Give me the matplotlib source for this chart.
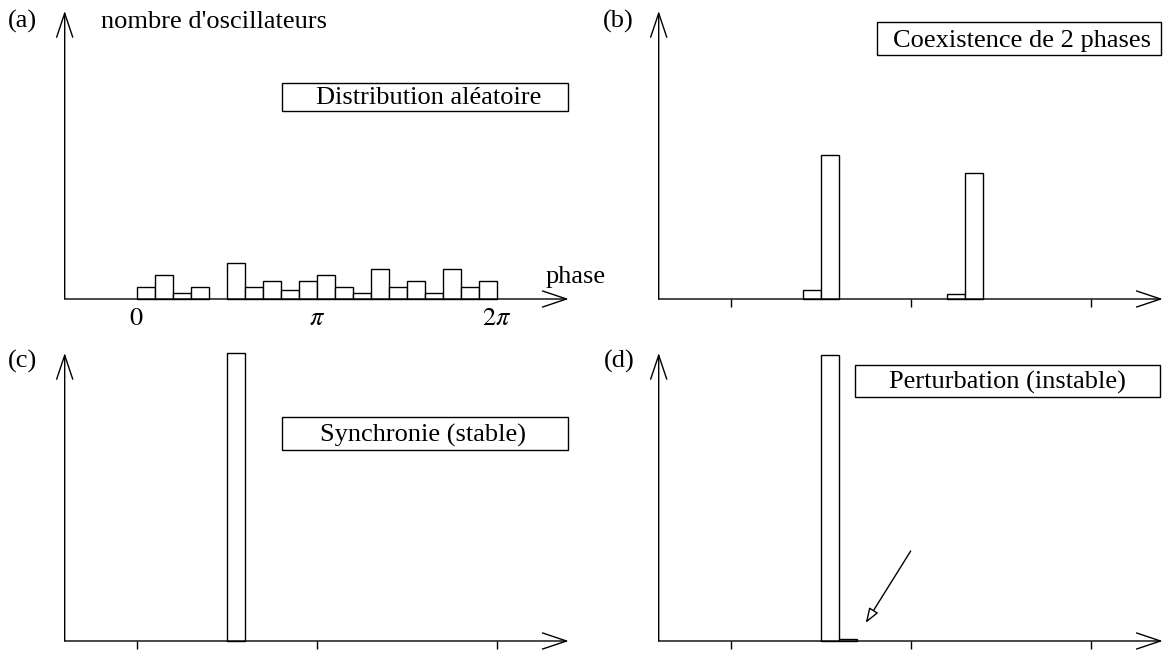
"""
Histogrammes de phases d'oscillateurs : 4 situations (a)-(d)
"""

import numpy as np
import matplotlib.pyplot as plt
from matplotlib.patches import Rectangle

plt.rcParams['font.family'] = 'Liberation Serif'
plt.rcParams['mathtext.fontset'] = 'stix'

W, H = 1166, 650
FS = 19

# 20 classes de phase entre 0 et 2*pi
N_BINS = 20
bin_width = 2 * np.pi / N_BINS
bin_left = np.arange(N_BINS) * bin_width

# nombre d'oscillateurs par classe
counts_a = [2, 4, 1, 2, 0, 6, 2, 3, 1.5, 3, 4, 2, 1, 5, 2, 3, 1, 5, 2, 3]
counts_b = [0, 0, 0, 0, 1.5, 24, 0, 0, 0, 0, 0, 0, 0.8, 21, 0, 0, 0, 0, 0, 0]
counts_c = [0, 0, 0, 0, 0, 48, 0, 0, 0, 0, 0, 0, 0, 0, 0, 0, 0, 0, 0, 0]
counts_d = [0, 0, 0, 0, 0, 47.6, 0.3, 0, 0, 0, 0, 0, 0, 0, 0, 0, 0, 0, 0, 0]

tick_pos = [0, np.pi, 2 * np.pi]
tick_labels = ['$0$', r'$\pi$', r'$2\pi$']

letters = ['(a)', '(b)', '(c)', '(d)']
titles = ['Distribution aléatoire', 'Coexistence de 2 phases',
          'Synchronie (stable)', 'Perturbation (instable)']

XMIN, XMAX = -0.4 * np.pi, 2.4 * np.pi
YMAX = 48


def fx(x):
    return x / W


def fy(y):
    return 1 - y / H


fig = plt.figure(figsize=(W / 100, H / 100), dpi=100)

# (pixel x de l'axe vertical, pixel y de l'axe horizontal)
layout = [(64.7, 299), (658.7, 299), (64.7, 641), (658.7, 641)]
all_counts = [counts_a, counts_b, counts_c, counts_d]
axes = []

arrow_axis = dict(arrowstyle='->,head_length=1.73,head_width=0.58', lw=1.0,
                  color='black', shrinkA=0, shrinkB=0, mutation_scale=10)

for (x0, base), counts in zip(layout, all_counts):
    ax = fig.add_axes([fx(x0), fy(base), 504 / W, 288 / H])
    ax.set_xlim(XMIN, XMAX)
    ax.set_ylim(0, YMAX)
    for s in ax.spines.values():
        s.set_visible(False)
    ax.set_yticks([])
    ax.patch.set_alpha(0)

    c = np.array(counts)
    m = c > 0
    ax.bar(bin_left[m], c[m], width=bin_width, align='edge',
           facecolor='white', edgecolor='black', lw=1.0, clip_on=False)

    ax.annotate('', xy=(XMIN, YMAX), xytext=(XMIN, 0),
                arrowprops=arrow_axis, annotation_clip=False)
    ax.annotate('', xy=(XMAX, 0), xytext=(XMIN, 0),
                arrowprops=arrow_axis, annotation_clip=False)
    axes.append(ax)

ax_a, ax_b, ax_c, ax_d = axes

# graduations
ax_a.set_xticks(tick_pos)
ax_a.set_xticklabels(tick_labels, fontsize=FS)
ax_a.tick_params(axis='x', length=0, pad=6.5)
for ax in (ax_b, ax_c, ax_d):
    ax.set_xticks(tick_pos)
    ax.tick_params(axis='x', length=6, width=1.0, direction='out',
                   labelbottom=False)

# textes des axes
fig.text(fx(101), fy(28), "nombre d'oscillateurs", fontsize=FS, va='baseline')
fig.text(fx(546), fy(283), 'phase', fontsize=FS, va='baseline')

# lettres des panneaux
for lab, (x, y) in zip(letters, [(8, 28), (603, 28), (8, 368), (604, 368)]):
    fig.text(fx(x), fy(y), lab, fontsize=FS, va='baseline')

# cadres de titre : (x0, x1, y0, y1, centre texte x, ligne de base)
boxes = [(281.7, 567.7, 83.3, 110.7, 429, 103.5),
         (877, 1161, 22, 55, 1022, 46.5),
         (281.7, 567.7, 417.3, 450, 423.5, 441.5),
         (855, 1160, 365, 397, 1007, 389)]
for title, (x0, x1, y0, y1, tx, tb) in zip(titles, boxes):
    fig.add_artist(Rectangle((fx(x0), fy(y1)), (x1 - x0) / W, (y1 - y0) / H,
                             transform=fig.transFigure, facecolor='white',
                             edgecolor='black', lw=1.0))
    fig.text(fx(tx), fy(tb), title, fontsize=FS, ha='center', va='baseline')

# flèche de la perturbation
ax_d.annotate('', xy=(0.75 * np.pi, 3), xytext=(np.pi, 15),
              arrowprops=dict(arrowstyle='-|>,head_length=0.9,head_width=0.32',
                              facecolor='white', edgecolor='black', lw=1.0,
                              shrinkA=0, shrinkB=0, mutation_scale=10),
              annotation_clip=False)

fig.savefig('out.png', dpi=100)
